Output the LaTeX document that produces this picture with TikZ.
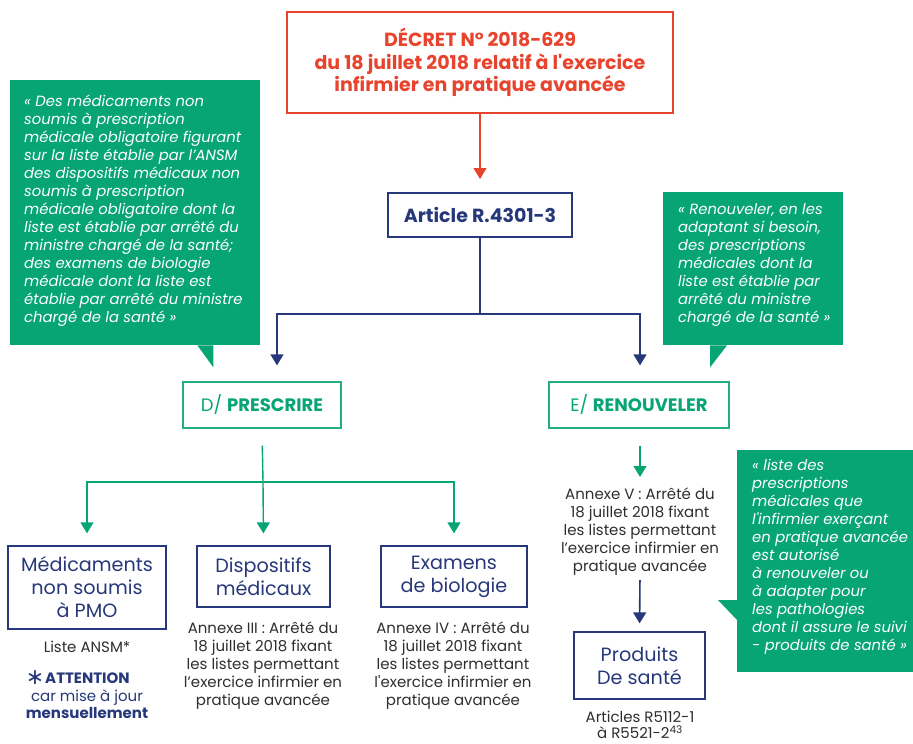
\documentclass[tikz,border=0pt]{standalone}
\usepackage{fontspec}
\setmainfont{Poppins}
\newfontfamily\symfont{DejaVu Sans}
\usetikzlibrary{arrows.meta}
\definecolor{decretred}{HTML}{E8432D}
\definecolor{navy}{HTML}{26387A}
\definecolor{cgreen}{HTML}{07A574}
\definecolor{bgreen}{HTML}{22AE7E}
\definecolor{txtgray}{HTML}{2E2E2E}
\begin{document}
\begin{tikzpicture}[x=1pt,y=-1pt,
  redbox/.style={draw=decretred, line width=2pt, inner sep=0pt, align=center, text=decretred,
    font=\fontsize{19}{22.5}\selectfont\bfseries},
  navybox/.style={draw=navy, line width=1.3pt, inner sep=0pt, align=center, text=navy,
    font=\fontsize{19.2}{23}\selectfont},
  greenbox/.style={draw=bgreen, line width=1.3pt, inner sep=0pt, align=center, text=cgreen,
    font=\fontsize{18}{20}\selectfont},
  callout/.style={fill=cgreen, draw=none, inner sep=0pt, anchor=north west},
  callouttext/.style={text=white, inner sep=0pt, anchor=north west, align=left,
    font=\fontsize{14.8}{18}\selectfont\itshape},
  note/.style={text=txtgray, inner sep=0pt, anchor=north, align=center,
    font=\fontsize{15}{18}\selectfont},
  redarr/.style={draw=decretred, line width=1.3pt, -{Triangle[width=13pt,length=11pt]}},
  navyline/.style={draw=navy, line width=1.6pt},
  navyarr/.style={draw=navy, line width=1.6pt, -{Triangle[width=13pt,length=11pt]}},
  greenline/.style={draw=cgreen, line width=1.4pt},
  greenarr/.style={draw=cgreen, line width=1.4pt, -{Triangle[width=13pt,length=11pt]}}
]
\useasboundingbox (0,0) rectangle (913,744);

% Top decree box
\node[redbox, minimum width=386pt, minimum height=101pt] (decret) at (480,62.5)
  {DÉCRET N° 2018-629\\du 18 juillet 2018 relatif à l\textquotesingle exercice\\infirmier en pratique avancée};

% Article
\node[navybox, line width=2pt, font=\fontsize{19}{22}\selectfont\bfseries,
  minimum width=184pt, minimum height=44pt] (article) at (480,215) {Article R.4301-3};

% D/ and E/
\node[greenbox, minimum width=158pt, minimum height=46pt] (dpres) at (262,405)
  {D/ \textbf{PRESCRIRE}};
\node[greenbox, minimum width=180pt, minimum height=46pt] (erenouv) at (639,405)
  {E/ \textbf{RENOUVELER}};

% Callouts
\node[callout, minimum width=250pt, minimum height=265pt] (c1) at (10,80) {};
\fill[cgreen] (c1.south east) ++(-47,0) -- ++(0,22) -- ++(-16,-22) -- cycle;
\node[callouttext] (c1t) at (24,95)
  {« Des médicaments non\\soumis à prescription\\médicale obligatoire figurant\\sur la liste établie par l’ANSM\\des dispositifs médicaux non\\soumis à prescription\\médicale obligatoire dont la\\liste est établie par arrêté du\\ministre chargé de la santé;\\des examens de biologie\\médicale dont la liste est\\établie par arrêté du ministre\\chargé de la santé »};

\node[callout, minimum width=180pt, minimum height=153pt] (c2) at (663,192) {};
\fill[cgreen] (c2.south west) ++(47,0) -- ++(0,22) -- ++(17,-22) -- cycle;
\node[callouttext] (c2t) at (678,203)
  {« Renouveler, en les\\adaptant si besoin,\\des prescriptions\\médicales dont la\\liste est établie par\\arrêté du ministre\\chargé de la santé »};

\node[callout, minimum width=180pt, minimum height=222pt] (c3) at (737,450) {};
\fill[cgreen] (c3.north west) ++(0,150) -- ++(-19,0) -- ++(19,20) -- cycle;
\node[callouttext] (c3t) at (752,459)
  {« liste des\\prescriptions\\médicales que\\l\textquotesingle infirmier exerçant\\en pratique avancée\\est autorisé\\à renouveler ou\\à adapter pour\\les pathologies\\dont il assure le suivi\\- produits de santé »};

% Lower boxes
\node[navybox, minimum width=158pt, minimum height=83pt] (med) at (87,587.5)
  {Médicaments\\non soumis\\à PMO};
\node[navybox, minimum width=133pt, minimum height=61pt] (disp) at (263.5,576.5)
  {Dispositifs\\médicaux};
\node[navybox, minimum width=146pt, minimum height=61pt] (exam) at (454,576.5)
  {Examens\\de biologie};

\node[note] (liste) at (87,641) {Liste ANSM*};
\node[note, text=navy, anchor=west, font=\fontsize{15}{18}\selectfont\bfseries] (attention) at (45,678)
  {ATTENTION};
\node[text=navy, inner sep=0pt, anchor=base east, font=\fontsize{22}{22}\selectfont\symfont] (star) at (44.5,684) {∗};
\node[note, text=navy, font=\fontsize{15}{16.5}\selectfont] (miseajour) at (87,690)
  {car mise à jour\\\textbf{mensuellement}};

\node[note] (annexe3) at (263,622)
  {Annexe III : Arrêté du\\18 juillet 2018 fixant\\les listes permettant\\l’exercice infirmier en\\pratique avancée};
\node[note] (annexe4) at (453,622)
  {Annexe IV : Arrêté du\\18 juillet 2018 fixant\\les listes permettant\\l\textquotesingle exercice infirmier en\\pratique avancée};
\node[note] (annexe5) at (640,488)
  {Annexe V : Arrêté du\\18 juillet 2018 fixant\\les listes permettant\\l’exercice infirmier en\\pratique avancée};

\node[navybox, minimum width=131pt, minimum height=67pt] (prod) at (639.5,665.5)
  {Produits\\De santé};
\node[note, font=\fontsize{15}{16}\selectfont] (articles) at (640,711)
  {Articles R5112-1\\à R5521-2\textsuperscript{43}};

% Connectors
\draw[redarr, shorten >=13pt] (decret.south) -- (article.north);
\coordinate (nsplit) at (480,314);
\draw[navyline] (article.south) -- (nsplit);
\draw[navyarr, shorten >=16pt] (nsplit) -| ([xshift=15pt]dpres.north);
\draw[navyarr, shorten >=16pt] (nsplit) -| ([xshift=1pt]erenouv.north);

\coordinate (dsplit) at (263,482);
\draw[greenline, shorten <=17pt] (dpres.south) -- (dsplit);
\draw[greenarr, shorten >=12pt] (dsplit) -| (med.north);
\draw[greenarr, shorten >=12pt] (dsplit) -- (disp.north);
\draw[greenarr, shorten >=12pt] (dsplit) -| (exam.north);

\draw[greenarr, shorten <=17pt, shorten >=11pt] ([xshift=1pt]erenouv.south) -- (annexe5.north);
\draw[navyarr, shorten <=4pt, shorten >=8pt] (annexe5.south) -- (prod.north);
\end{tikzpicture}
\end{document}
